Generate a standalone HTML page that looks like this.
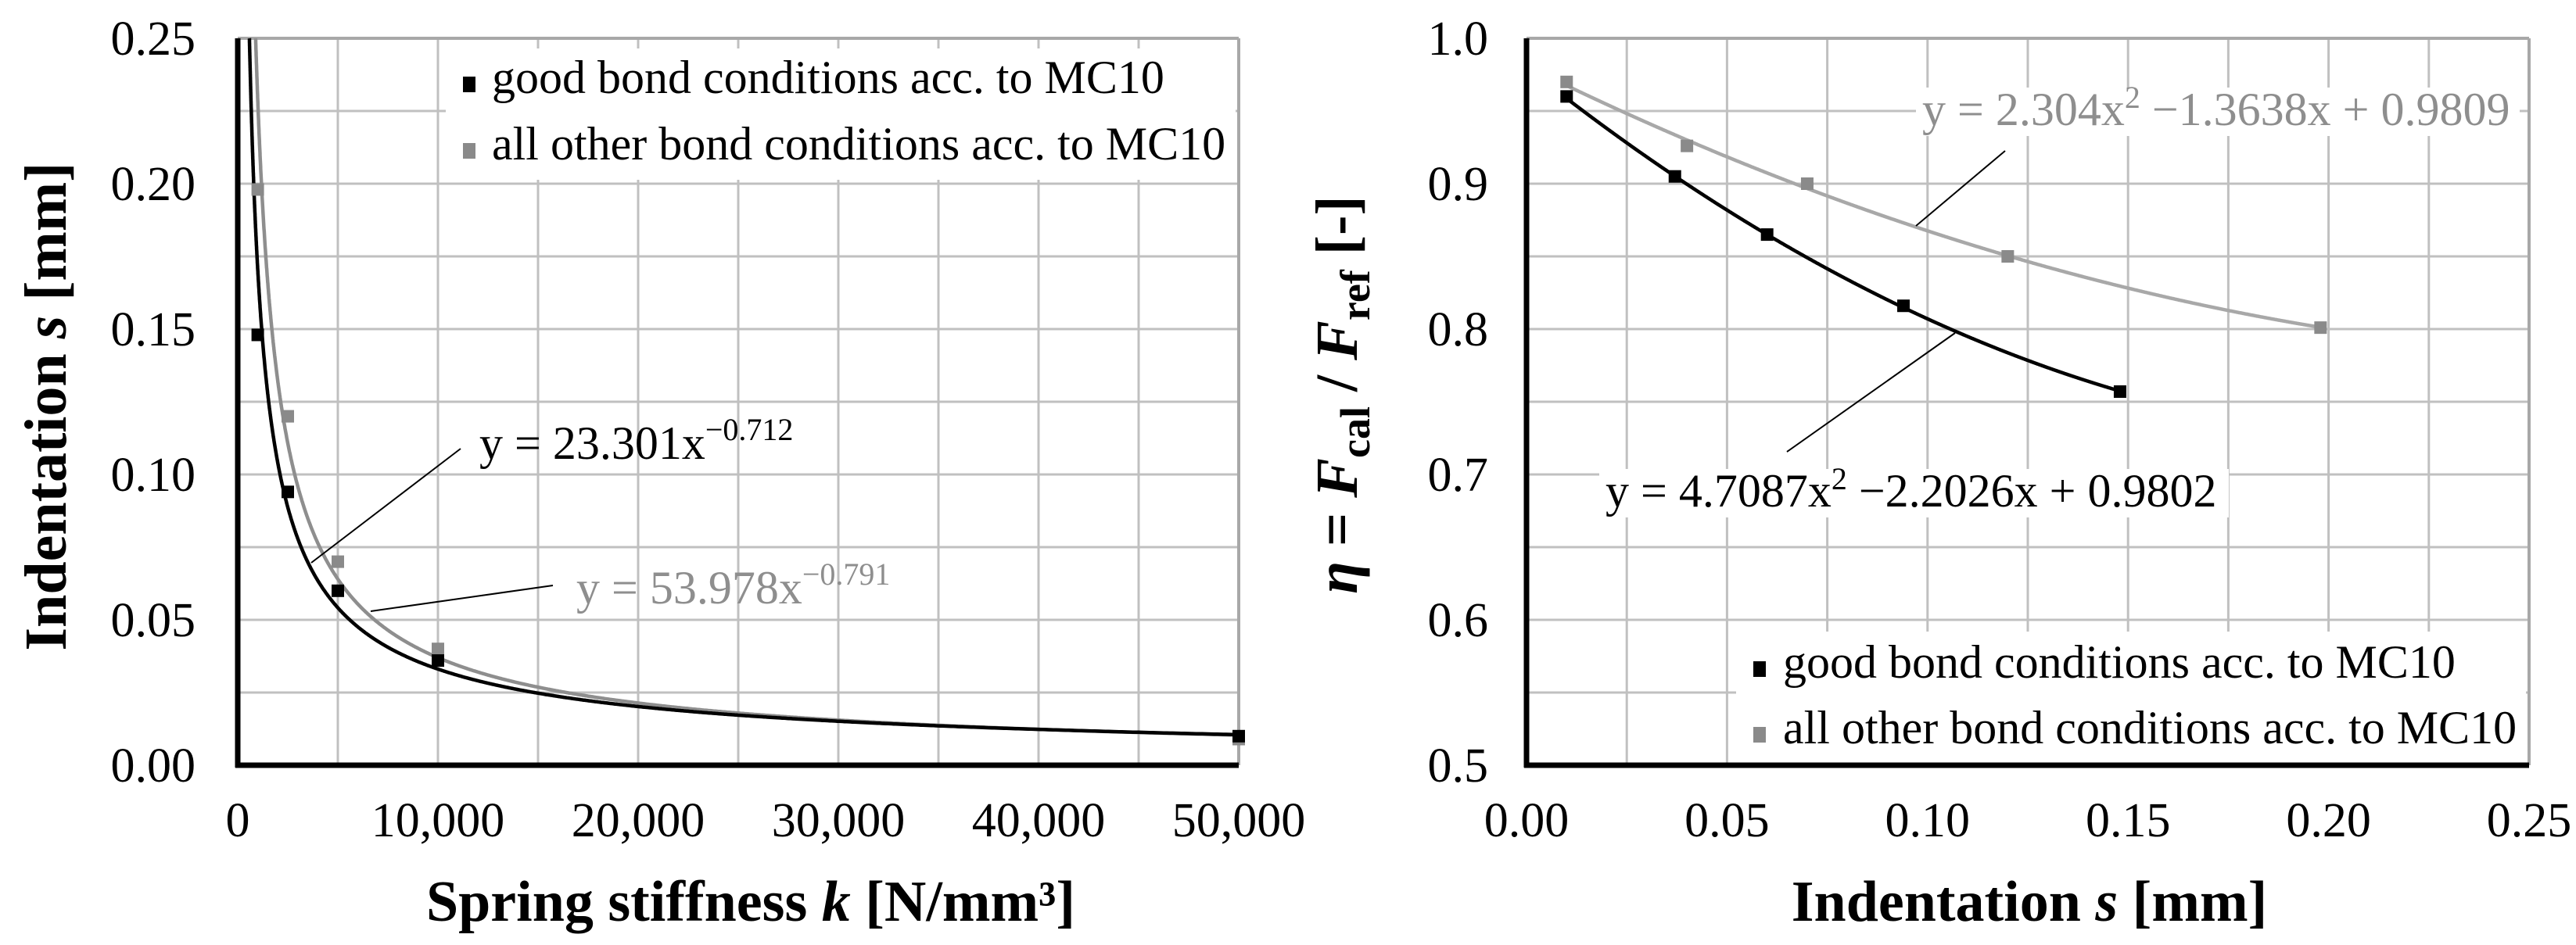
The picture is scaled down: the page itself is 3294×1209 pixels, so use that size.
<!DOCTYPE html>
<html><head><meta charset="utf-8"><style>
html,body{margin:0;padding:0;background:#fff;}
svg{display:block;font-family:"Liberation Serif",serif;}
</style></head><body>
<svg id="c" width="3294" height="1209" viewBox="0 0 3294 1209">
<rect width="3294" height="1209" fill="#fff"/>
<g id="L"></g>
<g id="R"></g>
<g id="A" style="font-family:'Liberation Serif',serif">
<rect x="592" y="98" width="16" height="20" fill="#000"/>
<text x="629" y="119" font-size="60">good bond conditions acc. to MC10</text>
<rect x="592" y="183" width="16" height="20" fill="#8a8a8a"/>
<text x="629" y="204" font-size="60">all other bond conditions acc. to MC10</text>
<line x1="589" y1="574" x2="398" y2="720" stroke="#000" stroke-width="2"/>
<text x="613" y="587" font-size="60">y = 23.301x<tspan dy="-24" font-size="40">−0.712</tspan></text>
<line x1="707" y1="749" x2="474" y2="782" stroke="#000" stroke-width="2"/>
<text x="737" y="772" font-size="60" fill="#8e8e8e">y = 53.978x<tspan dy="-24" font-size="40">−0.791</tspan></text>
<text x="960" y="1178" font-size="74" font-weight="bold" text-anchor="middle">Spring stiffness <tspan font-style="italic">k</tspan> [N/mm³]</text>
<text transform="translate(84,520) rotate(-90)" font-size="76" font-weight="bold" text-anchor="middle">Indentation <tspan font-style="italic">s</tspan> [mm]</text>
<rect x="2242" y="846" width="16" height="20" fill="#000"/>
<text x="2280" y="867" font-size="60">good bond conditions acc. to MC10</text>
<rect x="2242" y="930" width="16" height="20" fill="#8a8a8a"/>
<text x="2280" y="951" font-size="60">all other bond conditions acc. to MC10</text>
<rect x="2450" y="112" width="772" height="62" fill="#fff"/>
<line x1="2564" y1="193" x2="2450" y2="289" stroke="#000" stroke-width="2"/>
<text x="2458" y="160" font-size="60" fill="#8e8e8e">y = 2.304x<tspan dy="-22" font-size="40">2</tspan><tspan dy="22"> −1.3638x + 0.9809</tspan></text>
<rect x="2045" y="600" width="805" height="62" fill="#fff"/>
<line x1="2285" y1="578" x2="2500" y2="426" stroke="#000" stroke-width="2"/>
<text x="2053" y="648" font-size="60">y = 4.7087x<tspan dy="-22" font-size="40">2</tspan><tspan dy="22"> −2.2026x + 0.9802</tspan></text>
<text x="2595" y="1178" font-size="74" font-weight="bold" text-anchor="middle">Indentation <tspan font-style="italic">s</tspan> [mm]</text>
<text transform="translate(1735,505) rotate(-90)" font-size="76" font-weight="bold" text-anchor="middle"><tspan font-style="italic">η</tspan> = <tspan font-style="italic">F</tspan><tspan font-size="54" dy="16">cal</tspan><tspan dy="-16"> / </tspan><tspan font-style="italic">F</tspan><tspan font-size="54" dy="16">ref</tspan><tspan dy="-16"> [-]</tspan></text>
</g>
</svg>
<script>
// Left chart data
const kGood=[1000,2500,5000,10000,50000];
const sGood=[0.148,0.094,0.060,0.036,0.010];
const kOther=[1000,2500,5000,10000,50000];
const sOther=[0.198,0.120,0.070,0.040,0.009];
const powGood=[23.301,-0.712];
const powOther=[53.978,-0.791];
const leftXTicks=[0,10000,20000,30000,40000,50000];
const leftXTickLabels=["0","10,000","20,000","30,000","40,000","50,000"];
const leftYTicks=[0,0.05,0.10,0.15,0.20,0.25];
const leftYTickLabels=["0.00","0.05","0.10","0.15","0.20","0.25"];
// Right chart data
const sRGood=[0.010,0.037,0.060,0.094,0.148];
const etaGood=[0.960,0.905,0.865,0.816,0.757];
const sROther=[0.010,0.040,0.070,0.120,0.198];
const etaOther=[0.970,0.926,0.900,0.850,0.801];
const polyGood=[4.7087,-2.2026,0.9802];
const polyOther=[2.304,-1.3638,0.9809];
const rightXTicks=[0,0.05,0.10,0.15,0.20,0.25];
const rightXTickLabels=["0.00","0.05","0.10","0.15","0.20","0.25"];
const rightYTicks=[0.5,0.6,0.7,0.8,0.9,1.0];
const rightYTickLabels=["0.5","0.6","0.7","0.8","0.9","1.0"];

const NS="http://www.w3.org/2000/svg";
function mk(parent,tag,attrs,text){const e=document.createElementNS(NS,tag);for(const k in attrs)e.setAttribute(k,attrs[k]);if(text!==undefined)e.textContent=text;parent.appendChild(e);return e;}

function chart(g,o){
  const X=v=>o.x0+(v-o.xmin)/(o.xmax-o.xmin)*(o.x1-o.x0);
  const Y=v=>o.y1-(v-o.ymin)/(o.ymax-o.ymin)*(o.y1-o.y0);
  for(let i=0;i<=10;i++){
    const vx=o.xmin+i*(o.xmax-o.xmin)/10, vy=o.ymin+i*(o.ymax-o.ymin)/10;
    const gl=mk(g,'line',{x1:X(vx),x2:X(vx),y1:o.y0,y2:o.y1,stroke:'#c0c0c0','stroke-width':3});
    
    
    const gh=mk(g,'line',{x1:o.x0,x2:o.x1,y1:Y(vy),y2:Y(vy),stroke:'#c0c0c0','stroke-width':3});
    
    
  }
  mk(g,'line',{x1:o.x1,x2:o.x1,y1:o.y0,y2:o.y1,stroke:'#a8a8a8','stroke-width':4});
  mk(g,'line',{x1:o.x0,x2:o.x1,y1:o.y0,y2:o.y0,stroke:'#a8a8a8','stroke-width':4});
  const lb=mk(g,'rect',o.legBox);lb.setAttribute('fill','#fff');
  
  
  o.series.forEach(s=>{
    let d='';const N=2000;
    for(let i=0;i<=N;i++){
      const t=i/N;
      const xv=o.logSample? s.c0*Math.pow(s.c1/s.c0,t) : s.c0+(s.c1-s.c0)*t;
      let yv=s.f(xv);
      if(yv>o.ymax){ continue; }
      if(!d && o.logSample){
        const xs=Math.pow(o.ymax/s.a,1/s.b);
        d='M'+X(xs).toFixed(1)+','+Y(o.ymax).toFixed(1);
      }
      d+=(d?'L':'M')+X(xv).toFixed(1)+','+Y(yv).toFixed(1);
    }
    const p=mk(g,'path',{d:d,fill:'none',stroke:s.line,'stroke-width':4.5});
    
    
  });
  o.series.forEach(s=>{
    s.xs.forEach((xv,i)=>{
      const r=mk(g,'rect',{x:X(xv)-8,y:Y(s.ys[i])-8,width:16,height:16,fill:s.mark});
      
      
    });
  });
  mk(g,'line',{x1:o.x0,x2:o.x0,y1:o.y0,y2:o.y1+3,stroke:'#000','stroke-width':7});
  mk(g,'line',{x1:o.x0-3,x2:o.x1,y1:o.y1,y2:o.y1,stroke:'#000','stroke-width':7});
  o.xt.forEach((v,i)=>{const t=mk(g,'text',{x:X(v),y:1070,'text-anchor':'middle','font-size':62,fill:'#000'},o.xl[i]);
    
    });
  o.yt.forEach((v,i)=>{const t=mk(g,'text',{x:o.ylx,y:Y(v)+21,'text-anchor':'end','font-size':62,fill:'#000'},o.yl[i]);
    
    });
}

const L=document.getElementById('L');
chart(L,{x0:304,x1:1584,y0:49,y1:979,xmin:0,xmax:50000,ymin:0,ymax:0.25,logSample:true,
  xt:leftXTicks,xl:leftXTickLabels,yt:leftYTicks,yl:leftYTickLabels,ylx:250,
  legBox:{x:570,y:62,width:1010,height:168},
  series:[
   {name:'other',xs:kOther,ys:sOther,mark:'#8a8a8a',line:'#8e8e8e',c0:100,c1:50000,a:powOther[0],b:powOther[1],f:x=>powOther[0]*Math.pow(x,powOther[1])},
   {name:'good',xs:kGood,ys:sGood,mark:'#000',line:'#000',c0:100,c1:50000,a:powGood[0],b:powGood[1],f:x=>powGood[0]*Math.pow(x,powGood[1])}
  ]});
const R=document.getElementById('R');
chart(R,{x0:1952,x1:3234,y0:49,y1:979,xmin:0,xmax:0.25,ymin:0.5,ymax:1.0,
  xt:rightXTicks,xl:rightXTickLabels,yt:rightYTicks,yl:rightYTickLabels,ylx:1903,
  legBox:{x:2220,y:808,width:1010,height:168},
  series:[
   {name:'other',xs:sROther,ys:etaOther,mark:'#8a8a8a',line:'#a8a8a8',c0:0.010,c1:0.198,f:x=>polyOther[0]*x*x+polyOther[1]*x+polyOther[2]},
   {name:'good',xs:sRGood,ys:etaGood,mark:'#000',line:'#000',c0:0.010,c1:0.148,f:x=>polyGood[0]*x*x+polyGood[1]*x+polyGood[2]}
  ]});
const svg=document.getElementById('c');svg.appendChild(document.getElementById('A'));
</script>
</body></html>
